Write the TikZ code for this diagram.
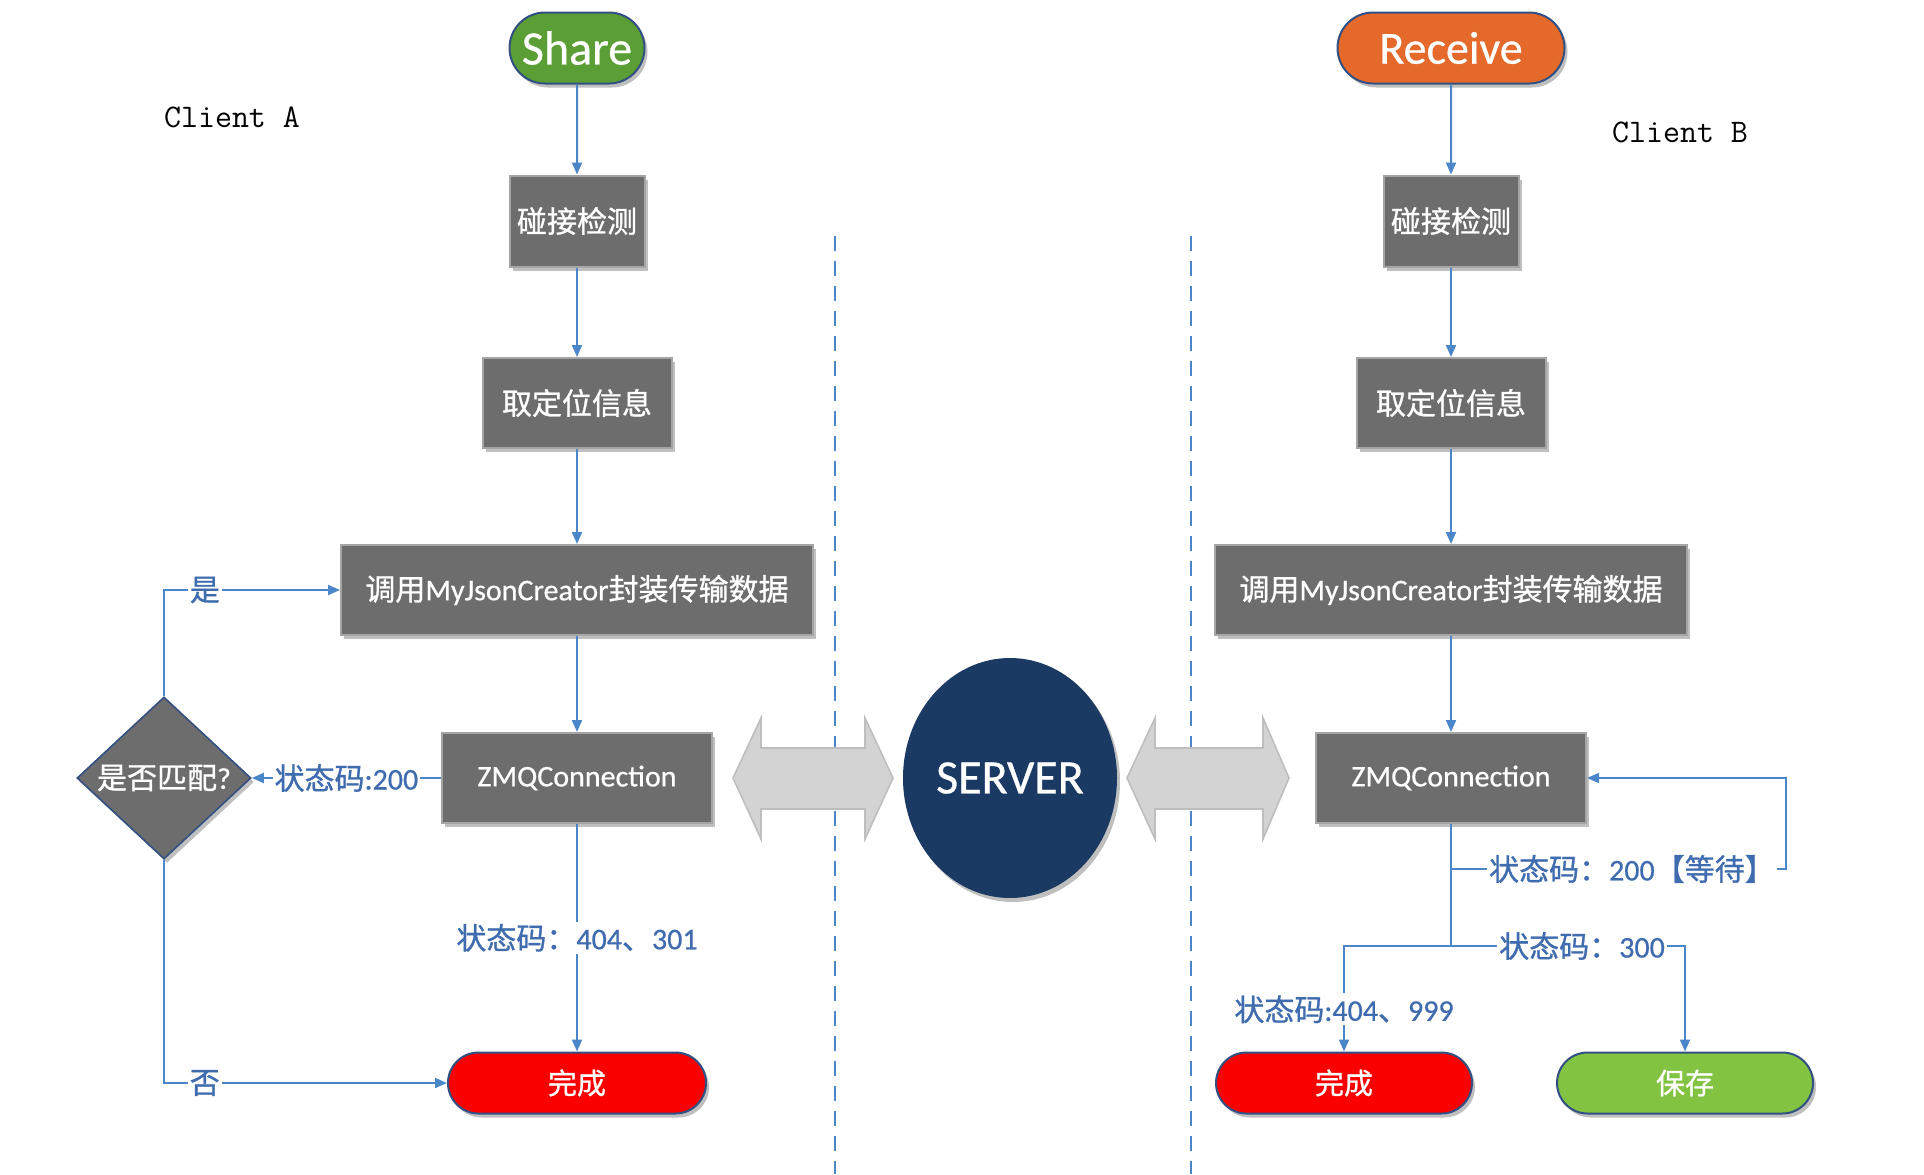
\documentclass[tikz,border=0pt]{standalone}
\usepackage{fontspec}
\setmainfont{Carlito}[FakeBold=0.6]
\newfontfamily\cjk{Noto Sans CJK SC}[FakeBold=0.9]
\usetikzlibrary{arrows.meta,shapes.geometric,shapes.misc,shadows}
\definecolor{linecolor}{RGB}{74,134,200}
\definecolor{labelcolor}{RGB}{63,108,175}
\definecolor{boxgray}{RGB}{109,109,109}
\definecolor{boxedge}{RGB}{165,165,165}
\definecolor{pilledge}{RGB}{50,80,130}
\definecolor{sharecolor}{RGB}{91,158,53}
\definecolor{receivecolor}{RGB}{229,105,42}
\definecolor{servercolor}{RGB}{27,58,99}
\definecolor{donecolor}{RGB}{250,0,0}
\definecolor{savecolor}{RGB}{130,195,65}
\definecolor{arrowgray}{RGB}{211,211,211}
\definecolor{arrowedge}{RGB}{190,190,190}
\newcommand{\zh}[1]{{\cjk #1}}
\tikzset{
  softshadow/.style={drop shadow={shadow xshift=1.5pt,shadow yshift=-2pt,opacity=.25,fill=black}},
  procbox/.style={rectangle,fill=boxgray,draw=boxedge,line width=1pt,text=white,inner sep=0pt,softshadow,font=\fontsize{15}{18}\selectfont},
  pill/.style={rounded rectangle,draw=pilledge,line width=1pt,text=white,inner sep=0pt,softshadow},
  flow/.style={draw=linecolor,line width=1pt,-{Triangle[length=6pt,width=5pt]}},
  code/.style={fill=white,text=labelcolor,inner sep=1pt,font=\fontsize{15}{18}\selectfont},
  clientname/.style={font=\ttfamily\fontsize{16.5}{18}\selectfont},
}
\begin{document}
\begin{tikzpicture}[x=0.5pt,y=-0.5pt]
  \useasboundingbox (0,0) rectangle (1924,1174);
  % lanes
  \draw[linecolor,line width=0.9pt,dash pattern=on 7.5pt off 5pt] (835,236) -- (835,1174);
  \draw[linecolor,line width=0.9pt,dash pattern=on 7.5pt off 5pt] (1191,236) -- (1191,1174);
  % links to the server
  \filldraw[fill=arrowgray,draw=arrowedge,line width=0.8pt]
    (733,778) -- (761,718) -- (761,748) -- (865,748) -- (865,718) -- (893,778)
    -- (865,839) -- (865,809) -- (761,809) -- (761,839) -- cycle;
  \filldraw[fill=arrowgray,draw=arrowedge,line width=0.8pt]
    (1127,778) -- (1155,718) -- (1155,748) -- (1263,748) -- (1263,718) -- (1289,778)
    -- (1263,839) -- (1263,809) -- (1155,809) -- (1155,839) -- cycle;
  \node[ellipse,fill=servercolor,text=white,minimum width=107pt,minimum height=120pt,inner sep=0pt,softshadow,font=\fontsize{24}{27}\selectfont] (server) at (1010,778) {SERVER};

  % client A
  \node[clientname] (clientA) at (232,117) {Client A};
  \node[pill,fill=sharecolor,minimum width=67.5pt,minimum height=35.5pt,font=\fontsize{24}{27}\selectfont] (share) at (577,48) {Share};
  \node[procbox,minimum width=67.5pt,minimum height=45.5pt] (detA) at (577,221) {\zh{碰接检测}};
  \node[procbox,minimum width=94.5pt,minimum height=45pt] (locA) at (577,403) {\zh{取定位信息}};
  \node[procbox,minimum width=236pt,minimum height=45pt] (packA) at (577,590) {\zh{调用}MyJsonCreator\zh{封装传输数据}};
  \node[procbox,minimum width=135pt,minimum height=45pt] (zmqA) at (577,778) {ZMQConnection};
  \node[diamond,aspect=1.07,fill=boxgray,draw=pilledge,line width=0.8pt,text=white,inner sep=0pt,minimum width=87pt,minimum height=81pt,softshadow,font=\fontsize{15}{18}\selectfont] (match) at (164,778) {\zh{是否匹配}?};
  \node[pill,fill=donecolor,minimum width=129pt,minimum height=30.5pt,font=\fontsize{14.5}{17}\selectfont] (doneA) at (577,1083) {\zh{完成}};

  \draw[flow] (share) -- (detA);
  \draw[flow] (detA) -- (locA);
  \draw[flow] (locA) -- (packA);
  \draw[flow] (packA) -- (zmqA);
  \draw[flow] (zmqA.west) -- node[code] {\zh{状态码}:200} (match.east);
  \draw[flow] (match.north) |- node[code,pos=0.616] {\zh{是}} (packA.west);
  \draw[flow] (match.south) |- node[code,pos=0.572] {\zh{否}} (doneA.west);
  \draw[flow] (zmqA.south) -- node[code] {\zh{状态码：}404\zh{、}301} (doneA.north);

  % client B
  \node[clientname] (clientB) at (1680,132) {Client B};
  \node[pill,fill=receivecolor,minimum width=113.5pt,minimum height=35.5pt,font=\fontsize{23}{26}\selectfont] (receive) at (1451,48) {Receive};
  \node[procbox,minimum width=67.5pt,minimum height=45.5pt] (detB) at (1451,221) {\zh{碰接检测}};
  \node[procbox,minimum width=94.5pt,minimum height=45pt] (locB) at (1451,403) {\zh{取定位信息}};
  \node[procbox,minimum width=236pt,minimum height=45pt] (packB) at (1451,590) {\zh{调用}MyJsonCreator\zh{封装传输数据}};
  \node[procbox,minimum width=135pt,minimum height=45pt] (zmqB) at (1451,778) {ZMQConnection};
  \node[pill,fill=donecolor,minimum width=128pt,minimum height=30.5pt,font=\fontsize{14.5}{17}\selectfont] (doneB) at (1344,1083) {\zh{完成}};
  \node[pill,fill=savecolor,minimum width=128pt,minimum height=30.5pt,font=\fontsize{14.5}{17}\selectfont] (save) at (1685,1083) {\zh{保存}};

  \draw[flow] (receive) -- (detB);
  \draw[flow] (detB) -- (locB);
  \draw[flow] (locB) -- (packB);
  \draw[flow] (packB) -- (zmqB);
  \coordinate (waitfork) at (1451,869);
  \coordinate (waitturn) at (1786,869);
  \coordinate (endfork) at (1451,946);
  \draw[linecolor,line width=1pt] (zmqB.south) -- (endfork);
  \draw[flow] (waitfork) -- node[code,pos=0.54] {\zh{状态码：}200\zh{【等待】}} (waitturn) |- (zmqB.east);
  \draw[flow] (endfork) -| node[code,pos=0.8] {\zh{状态码}:404\zh{、}999} (doneB.north);
  \draw[flow] (endfork) -| node[code,pos=0.28] {\zh{状态码：}300} (save.north);
\end{tikzpicture}
\end{document}
